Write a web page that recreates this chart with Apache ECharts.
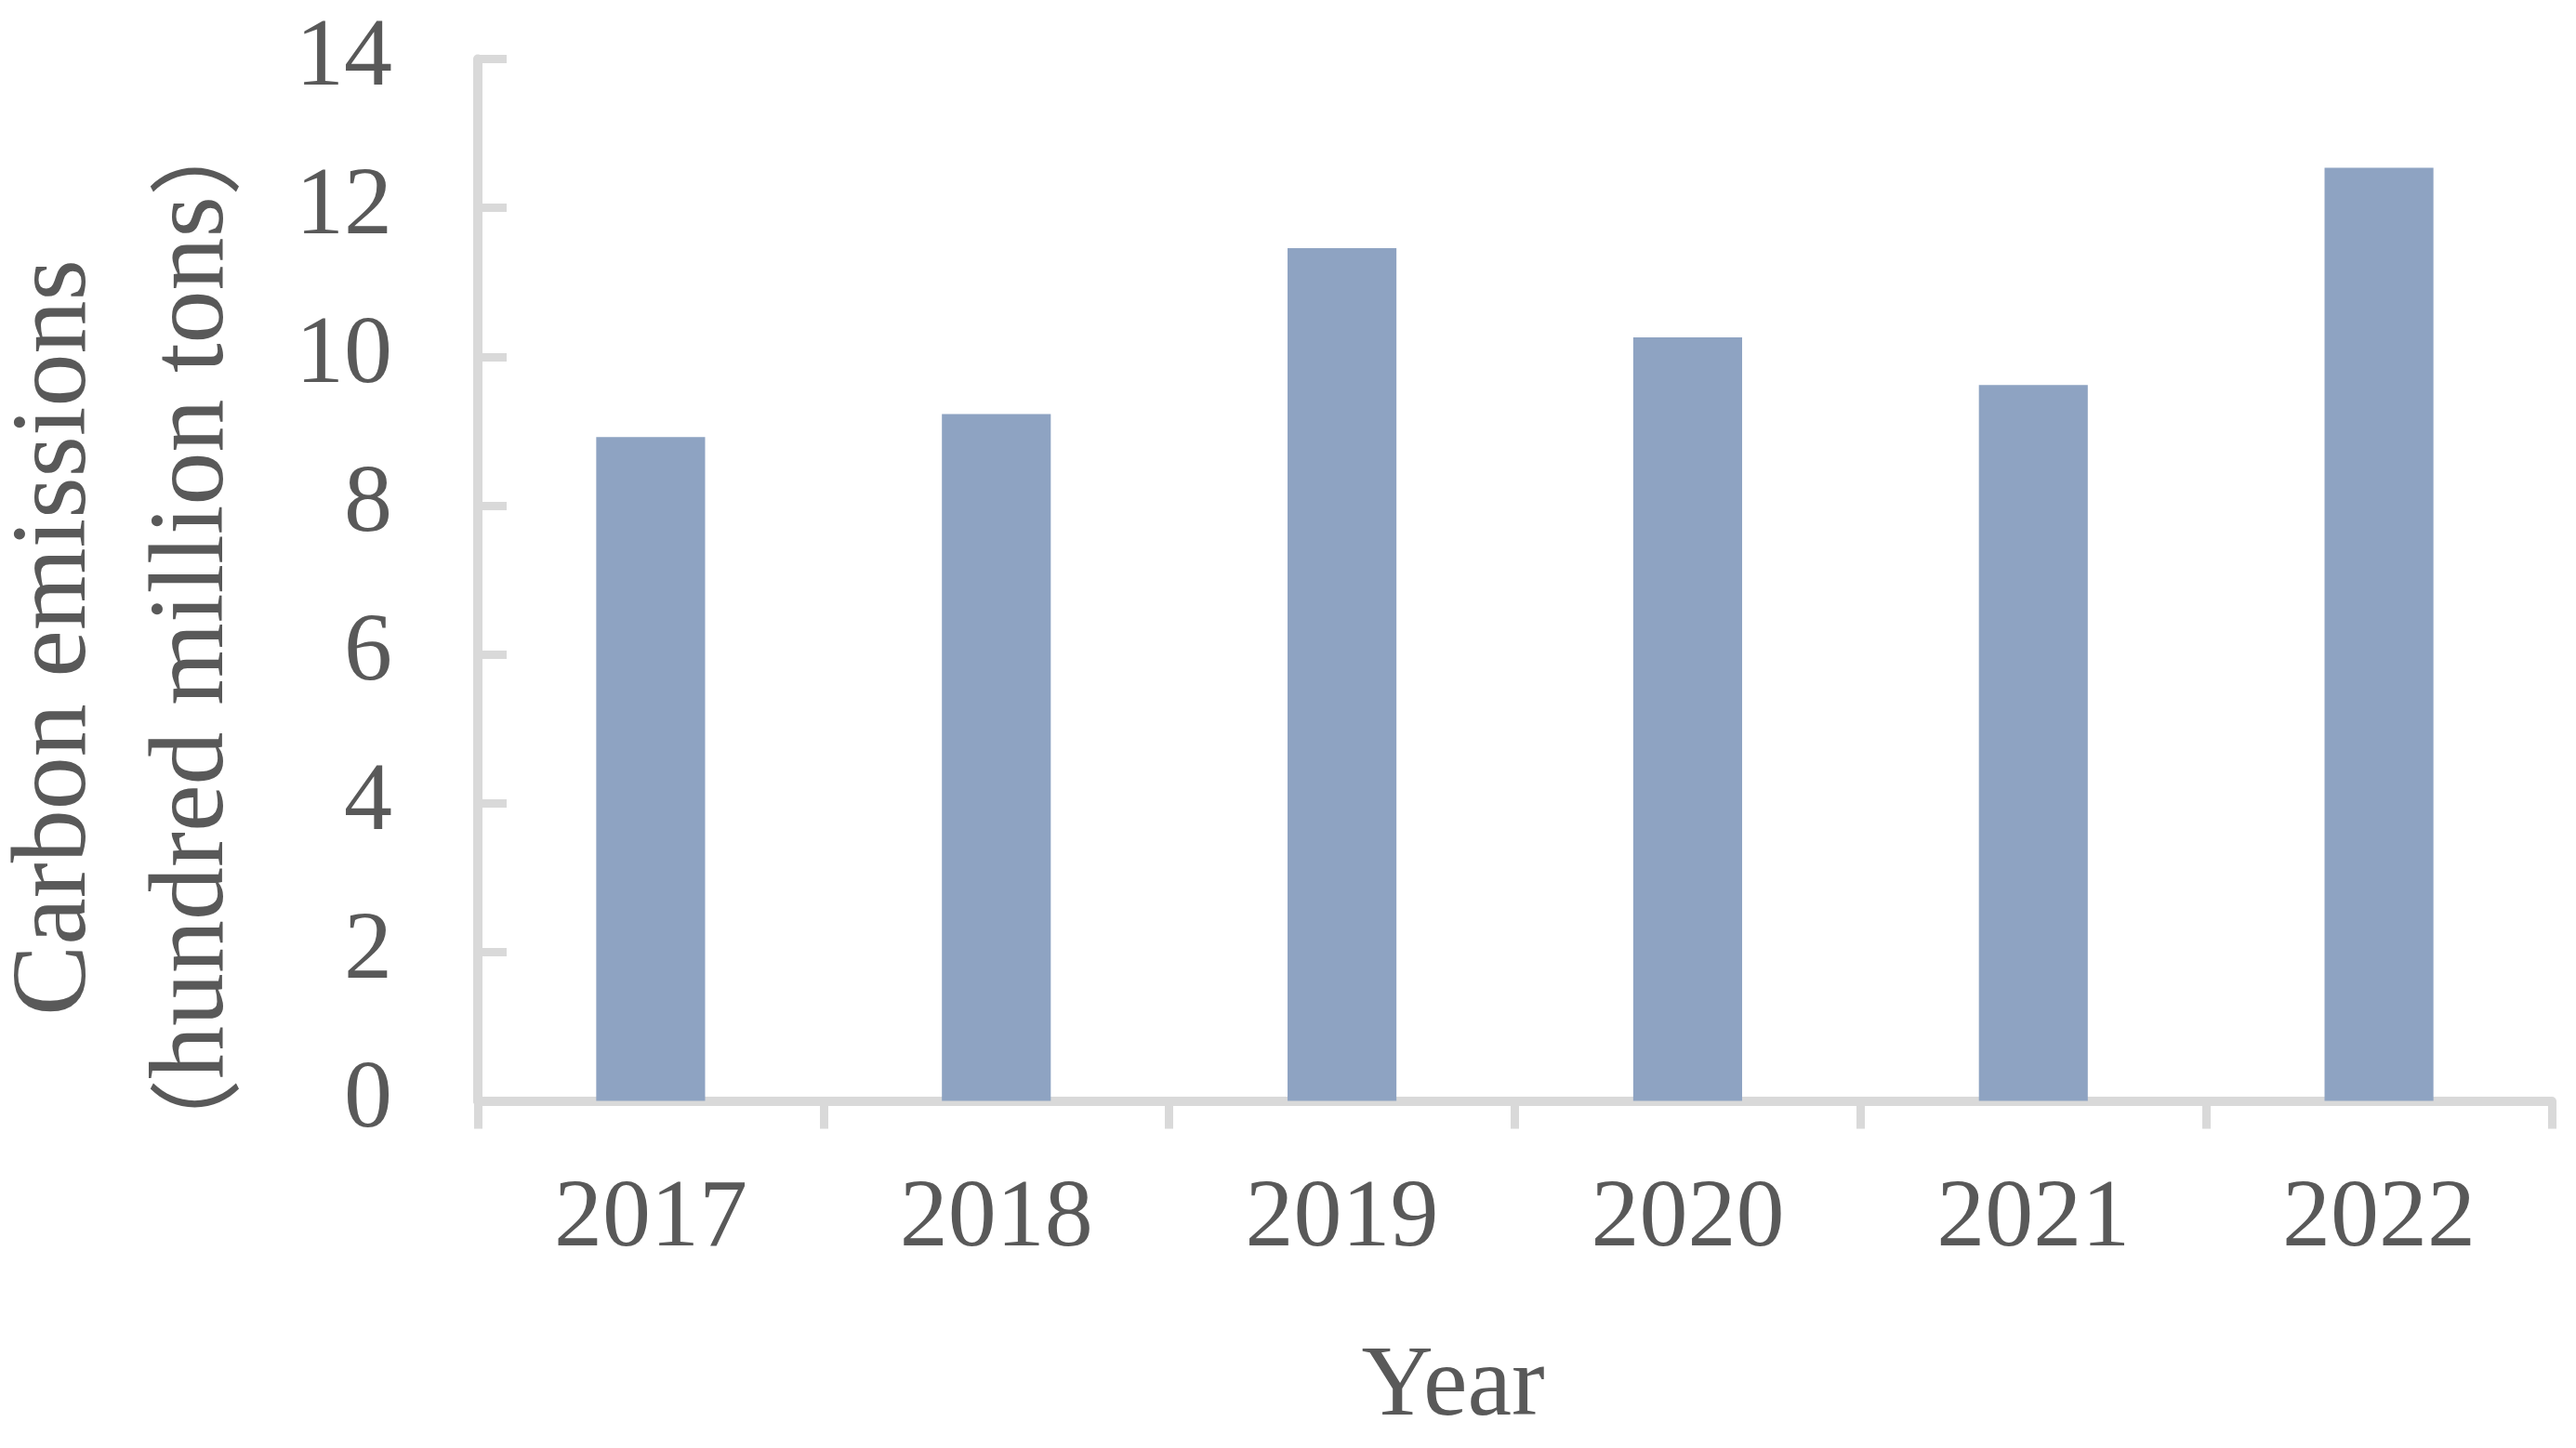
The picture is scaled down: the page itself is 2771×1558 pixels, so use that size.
<!DOCTYPE html>
<html>
<head>
<meta charset="utf-8">
<script src="https://cdn.jsdelivr.net/npm/echarts@6/dist/echarts.min.js"></script>
<style>
  html, body { margin: 0; padding: 0; background: #fff; }
  #chart { width: 2771px; height: 1558px; }
</style>
</head>
<body>
<div id="chart"></div>
<script>
const years = ['2017', '2018', '2019', '2020', '2021', '2022'];
const emissions = [8.92, 9.23, 11.46, 10.26, 9.62, 12.54];
const yTicks = [0, 2, 4, 6, 8, 10, 12, 14];

const axisColor = '#D9D9D9';
const textColor = '#595959';
const serif = '"Liberation Serif", "Times New Roman", serif';
const cjk = '"Noto Sans CJK SC", sans-serif';

const chart = echarts.init(document.getElementById('chart'));

const options = {
  backgroundColor: '#fff',
  animation: false,
  grid: {
    left: 514,
    right: 26,
    top: 63.5,
    bottom: 373.5,
  },
  xAxis: {
    type: 'category',
    data: years,
    name: 'Year',
    nameLocation: 'middle',
    nameGap: 256,
    nameTextStyle: {
      fontFamily: serif,
      fontSize: 107,
      color: textColor,
      padding: [0, 133, 0, 0],
    },
    axisLine: { lineStyle: { color: axisColor, width: 10 } },
    axisTick: {
      show: true,
      alignWithLabel: false,
      length: 30,
      lineStyle: { color: axisColor, width: 9 },
    },
    axisLabel: {
      margin: 76,
      fontFamily: serif,
      fontSize: 104,
      color: textColor,
    },
    splitLine: { show: false },
  },
  yAxis: {
    type: 'value',
    min: yTicks[0],
    max: yTicks[yTicks.length - 1],
    interval: yTicks[1] - yTicks[0],
    axisLine: { show: true, lineStyle: { color: axisColor, width: 10 } },
    axisTick: {
      show: true,
      inside: true,
      length: 31,
      lineStyle: { color: axisColor, width: 9 },
    },
    axisLabel: {
      margin: 92,
      fontFamily: serif,
      fontSize: 104,
      color: textColor,
    },
    splitLine: { show: false },
  },
  // two-line axis title, rotated like the original
  graphic: [
    {
      type: 'text',
      x: 135,
      y: 686,
      rotation: Math.PI / 2,
      style: {
        text: '{t|Carbon emissions}\n{p|（}{t|hundred million tons}{p|）}',
        fill: textColor,
        align: 'center',
        verticalAlign: 'middle',
        rich: {
          t: {
            fontFamily: serif,
            fontSize: 114,
            lineHeight: 148,
            fill: textColor,
          },
          p: {
            fontFamily: cjk,
            fontSize: 100,
            lineHeight: 148,
            fill: textColor,
          },
        },
      },
    },
  ],
  series: [
    {
      type: 'bar',
      data: emissions,
      barWidth: '31.5%',
      itemStyle: { color: '#8EA3C2' },
    },
  ],
};

chart.setOption(options);
</script>
</body>
</html>
